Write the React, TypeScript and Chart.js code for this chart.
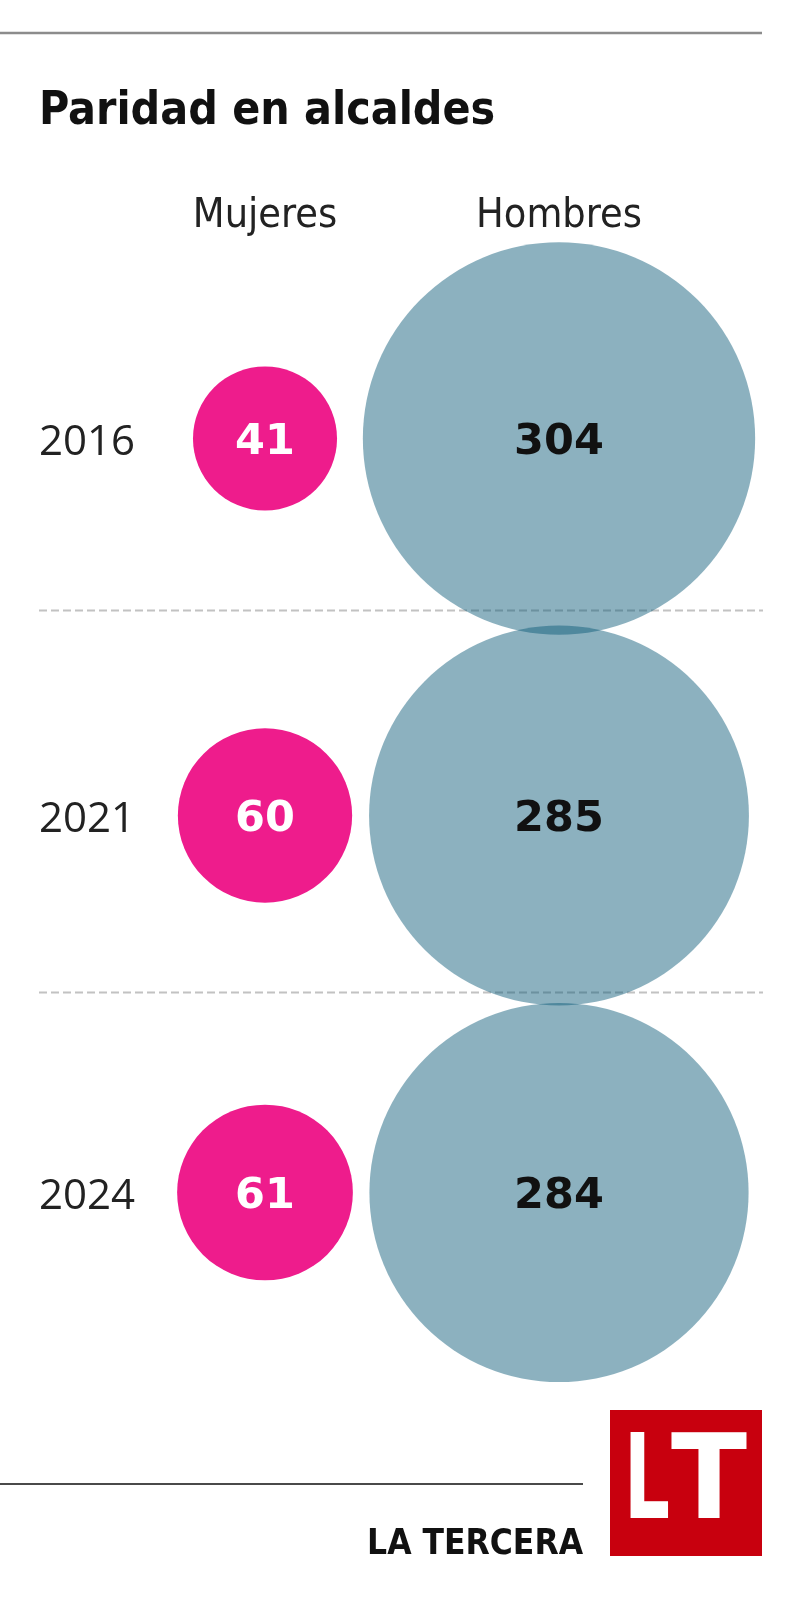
import React, { useEffect, useRef } from 'react';
import { Chart, registerables } from 'chart.js';
Chart.register(...registerables);

const title = 'Paridad en alcaldes';
const columns = ['Mujeres', 'Hombres'];
const years = ['2016', '2021', '2024'];
const mujeres = [41, 60, 61];
const hombres = [304, 285, 284];
const separators = [0.455, 1.468];
const brand = 'LA TERCERA';
const logo = 'LT';

const W = 800;
const H = 1609;

export default function App() {
  const ref = useRef<HTMLCanvasElement>(null);
  useEffect(() => {
    document.body.style.margin = '0';
    const K = 11.25;
    const mk = (col: string, vals: number[]) =>
      years.map((y, i) => ({ x: col, y, r: K * Math.sqrt(vals[i]), v: vals[i] }));

    const deco = {
      id: 'deco',
      beforeDatasetsDraw(chart: any) {
        const ctx = chart.ctx;
        const ys = chart.scales.y;
        ctx.save();
        ctx.strokeStyle = '#8c8c8c';
        ctx.lineWidth = 2.5;
        ctx.beginPath();
        ctx.moveTo(0, 33);
        ctx.lineTo(762, 33);
        ctx.stroke();
        ctx.setLineDash([8, 4]);
        ctx.strokeStyle = '#c2c2c2';
        ctx.lineWidth = 2;
        separators.forEach((s) => {
          const p = Math.round(ys.getPixelForValue(s)) + 0.5;
          ctx.beginPath();
          ctx.moveTo(39, p);
          ctx.lineTo(763, p);
          ctx.stroke();
        });
        ctx.restore();
      },
      afterDatasetsDraw(chart: any) {
        const ctx = chart.ctx;
        const xs = chart.scales.x;
        const ys = chart.scales.y;
        ctx.save();
        // title
        ctx.fillStyle = '#111';
        ctx.textAlign = 'left';
        ctx.textBaseline = 'alphabetic';
        ctx.font = 'bold 46px "DejaVu Sans Condensed", "DejaVu Sans"';
        ctx.fillText(title, 39, 124);
        // column headers
        ctx.fillStyle = '#222';
        ctx.textAlign = 'center';
        ctx.font = '41px "DejaVu Sans Condensed", "DejaVu Sans"';
        columns.forEach((c, i) => ctx.fillText(c, xs.getPixelForValue(i), 227));
        // years
        ctx.textAlign = 'left';
        ctx.font = '42px "Open Sans"';
        years.forEach((y, i) => ctx.fillText(y, 39, ys.getPixelForValue(i) + 16));
        // values
        ctx.textAlign = 'center';
        ctx.font = 'bold 43px "DejaVu Sans"';
        const colors = ['#ffffff', '#111111'];
        chart.data.datasets.forEach((ds: any, di: number) => {
          const meta = chart.getDatasetMeta(di);
          ctx.fillStyle = colors[di];
          meta.data.forEach((el: any, i: number) => {
            ctx.fillText(String(ds.data[i].v), el.x, el.y + 15.5);
          });
        });
        // footer
        ctx.strokeStyle = '#4a4a4a';
        ctx.lineWidth = 2;
        ctx.beginPath();
        ctx.moveTo(0, 1484);
        ctx.lineTo(583, 1484);
        ctx.stroke();
        ctx.fillStyle = '#111';
        ctx.textAlign = 'right';
        ctx.font = 'bold 35px "DejaVu Sans Condensed", "DejaVu Sans"';
        ctx.fillText(brand, 583, 1554);
        ctx.fillStyle = '#c8000e';
        ctx.fillRect(610, 1410, 152, 146);
        ctx.fillStyle = '#ffffff';
        ctx.textAlign = 'left';
        ctx.font = 'bold 118px "Liberation Sans Narrow", "DejaVu Sans Condensed"';
        ctx.save();
        ctx.translate(624, 1518);
        ctx.scale(0.68, 1);
        ctx.fillText(logo[0], 0, 0);
        ctx.restore();
        ctx.save();
        ctx.translate(709, 1518);
        ctx.scale(1.05, 1);
        ctx.textAlign = 'center';
        ctx.fillText(logo[1], 0, 0);
        ctx.restore();
        ctx.restore();
      },
    };

    const chart = new Chart(ref.current!, {
      type: 'bubble',
      data: {
        datasets: [
          {
            label: columns[0],
            data: mk(columns[0], mujeres) as any,
            backgroundColor: '#ee1c8c',
            borderWidth: 0,
            clip: false as any,
          },
          {
            label: columns[1],
            data: mk(columns[1], hombres) as any,
            backgroundColor: 'rgba(10, 90, 120, 0.47)',
            borderWidth: 0,
            clip: false as any,
          },
        ],
      },
      options: {
        responsive: false,
        animation: false,
        events: [],
        layout: { autoPadding: false, padding: { left: 118, right: 94, top: 250, bottom: 228 } },
        plugins: { legend: { display: false }, tooltip: { enabled: false } },
        scales: {
          x: { type: 'category', labels: columns, offset: true, display: false },
          y: { type: 'category', labels: years, offset: true, display: false },
        },
      },
      plugins: [deco],
    });
    return () => chart.destroy();
  }, []);

  return (
    <div style={{ width: W, height: H, position: 'relative', overflow: 'hidden', background: '#fff' }}>
      <canvas ref={ref} width={W} height={H} style={{ display: 'block' }} />
    </div>
  );
}
